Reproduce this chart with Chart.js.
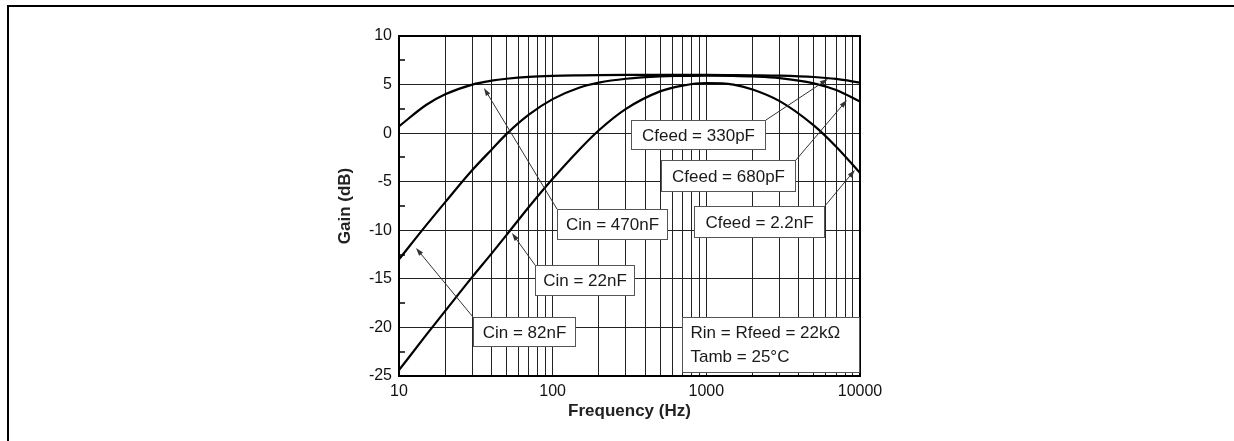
<!DOCTYPE html>
<html>
<head>
<meta charset="utf-8">
<script src="https://cdn.jsdelivr.net/npm/chart.js@4.4.1/dist/chart.umd.min.js"></script>
<style>
  html, body { margin: 0; padding: 0; background: #fff; }
  canvas { display: block; }
</style>
</head>
<body>
<canvas id="gainChart" width="1234" height="441"></canvas>
<script>
// Frequency points (Hz) where the curves were read
const freqs = [10, 15, 20, 30, 40, 50, 70, 100, 150, 200, 300, 500, 700, 1000, 1500, 2000, 3000, 5000, 7000, 10000];

// Gain (dB) per curve
const gainCin470 = [0.7, 2.9, 4.0, 5.0, 5.4, 5.6, 5.8, 5.9, 5.95, 5.97, 5.99, 6.0, 6.0, 6.0, 5.98, 5.96, 5.92, 5.78, 5.58, 5.2];
const gainCin82  = [-13.0, -9.5, -7.1, -3.8, -1.7, -0.1, 1.9, 3.5, 4.7, 5.2, 5.6, 5.85, 5.9, 5.93, 5.9, 5.84, 5.67, 5.13, 4.44, 3.25];
const gainCin22  = [-24.4, -20.8, -18.3, -14.8, -12.4, -10.5, -7.6, -4.7, -1.65, 0.3, 2.5, 4.3, 4.9, 5.15, 5.0, 4.5, 3.3, 0.8, -1.4, -4.1];

// Axis ticks
const decades = [10, 100, 1000];
const xGrid = [];
decades.forEach(d => { for (let m = 1; m <= 9; m++) xGrid.push(d * m); });
xGrid.push(10000);
const xLabels = [10, 100, 1000, 10000];
const yMinorTicks = [7.5, 2.5, -2.5, -7.5, -12.5, -17.5, -22.5];

// Callout boxes: box = [f left, gain top, f right, gain bottom], tip = [f, gain]
const callouts = [
  { lines: ['Cfeed = 330pF'], box: [323, 1.35, 2443, -1.64], corner: 'right', tip: [6180, 5.57] },
  { lines: ['Cfeed = 680pF'], box: [507, -2.77, 3828, -5.96], corner: 'right', tip: [8220, 3.41] },
  { lines: ['Cfeed = 2.2nF'], box: [830, -7.5, 5910, -10.69], corner: 'right', tip: [9265, -3.79] },
  { lines: ['Cin = 470nF'], box: [106.7, -7.81, 562, -10.9], corner: 'left', tip: [35.7, 4.65] },
  { lines: ['Cin = 22nF'], box: [76.7, -13.57, 343, -16.66], corner: 'left', tip: [54.3, -10.28] },
  { lines: ['Cin = 82nF'], box: [30.3, -18.93, 141.8, -21.91], corner: 'left', tip: [12.9, -11.82] },
  { lines: ['Rin = Rfeed = 22k\u03A9', 'Tamb = 25\u00B0C'], box: [694, -18.93, 10000, -24.59], align: 'left' }
];

Chart.defaults.font.family = 'Arial, "Liberation Sans", Helvetica, sans-serif';
Chart.defaults.color = '#111';

const toPoints = (gains) => freqs.map((f, i) => ({ x: f, y: gains[i] }));
const curve = (gains) => ({
    data: toPoints(gains),
    borderColor: '#000',
    borderWidth: 2.2,
    pointRadius: 0,
    fill: false,
    cubicInterpolationMode: 'monotone'
});

function drawArrow(ctx, x1, y1, x2, y2) {
    const ang = Math.atan2(y2 - y1, x2 - x1);
    ctx.beginPath();
    ctx.moveTo(x1, y1);
    ctx.lineTo(x2 - Math.cos(ang) * 4, y2 - Math.sin(ang) * 4);
    ctx.stroke();
    ctx.beginPath();
    ctx.moveTo(x2, y2);
    ctx.lineTo(x2 - 8 * Math.cos(ang) + 2.5 * Math.sin(ang), y2 - 8 * Math.sin(ang) - 2.5 * Math.cos(ang));
    ctx.lineTo(x2 - 8 * Math.cos(ang) - 2.5 * Math.sin(ang), y2 - 8 * Math.sin(ang) + 2.5 * Math.cos(ang));
    ctx.closePath();
    ctx.fill();
}

const decorations = {
    id: 'decorations',
    beforeDraw(chart) {
        const ctx = chart.ctx;
        ctx.save();
        ctx.strokeStyle = '#000';
        ctx.lineWidth = 2;
        ctx.beginPath();
        ctx.moveTo(8, 441);
        ctx.lineTo(8, 6);
        ctx.lineTo(1234, 6);
        ctx.stroke();
        ctx.restore();
    },
    afterDatasetsDraw(chart) {
        const { ctx, chartArea: a, scales: { x, y } } = chart;
        ctx.save();

        // plot frame
        ctx.strokeStyle = '#000';
        ctx.lineWidth = 2;
        ctx.strokeRect(a.left, a.top, a.right - a.left, a.bottom - a.top);

        // minor ticks on the gain axis
        ctx.lineWidth = 1.5;
        yMinorTicks.forEach(v => {
            const py = Math.round(y.getPixelForValue(v));
            ctx.beginPath();
            ctx.moveTo(a.left, py);
            ctx.lineTo(a.left + 6, py);
            ctx.stroke();
        });

        // arrows then boxes
        ctx.strokeStyle = '#333';
        ctx.fillStyle = '#333';
        ctx.lineWidth = 1;
        callouts.forEach(c => {
            if (!c.tip) return;
            const bx = x.getPixelForValue(c.corner === 'right' ? c.box[2] : c.box[0]);
            const by = y.getPixelForValue(c.box[1]);
            drawArrow(ctx, bx, by, x.getPixelForValue(c.tip[0]), y.getPixelForValue(c.tip[1]));
        });

        ctx.font = '17px Arial, "Liberation Sans", sans-serif';
        ctx.textBaseline = 'middle';
        callouts.forEach(c => {
            const l = Math.round(x.getPixelForValue(c.box[0])) + 0.5;
            const t = Math.round(y.getPixelForValue(c.box[1])) + 0.5;
            const r = Math.round(x.getPixelForValue(c.box[2])) - 0.5;
            const b = Math.round(y.getPixelForValue(c.box[3])) + 0.5;
            ctx.fillStyle = '#fff';
            ctx.fillRect(l, t, r - l, b - t);
            ctx.strokeStyle = '#555';
            ctx.lineWidth = 1;
            ctx.strokeRect(l, t, r - l, b - t);
            ctx.fillStyle = '#1a1a1a';
            const cy = (t + b) / 2;
            const gap = 24;
            c.lines.forEach((txt, i) => {
                const ty = cy + (i - (c.lines.length - 1) / 2) * gap;
                if (c.align === 'left') {
                    ctx.textAlign = 'left';
                    ctx.fillText(txt, l + 8, ty);
                } else {
                    ctx.textAlign = 'center';
                    ctx.fillText(txt, (l + r) / 2, ty + 1);
                }
            });
        });
        ctx.restore();
    }
};

new Chart(document.getElementById('gainChart'), {
    type: 'line',
    data: {
        datasets: [curve(gainCin470), curve(gainCin82), curve(gainCin22)]
    },
    options: {
        responsive: false,
        animation: false,
        layout: { padding: { left: 300, right: 374, top: 36, bottom: 0 } },
        plugins: {
            legend: { display: false },
            tooltip: { enabled: false }
        },
        scales: {
            x: {
                type: 'logarithmic',
                min: 10,
                max: 10000,
                afterBuildTicks: (s) => { s.ticks = xGrid.map(v => ({ value: v })); },
                afterFit: (s) => { s.height = 65; },
                ticks: {
                    autoSkip: false,
                    maxRotation: 0,
                    padding: 6,
                    color: '#111',
                    font: { size: 16 },
                    callback: (v) => xLabels.includes(v) ? String(v) : ''
                },
                grid: { color: '#222', lineWidth: 1, drawTicks: false },
                border: { display: false },
                title: {
                    display: true,
                    text: 'Frequency (Hz)',
                    color: '#222',
                    font: { size: 17, weight: 'bold' },
                    padding: { top: 0, bottom: 19 }
                }
            },
            y: {
                min: -25,
                max: 10,
                afterFit: (s) => { s.width = 99; },
                ticks: {
                    stepSize: 5,
                    padding: 7,
                    color: '#111',
                    font: { size: 16 }
                },
                grid: { color: '#222', lineWidth: 1, drawTicks: false },
                border: { display: false },
                title: {
                    display: true,
                    text: 'Gain (dB)',
                    color: '#222',
                    font: { size: 17, weight: 'bold' },
                    padding: { top: 35, bottom: 0 }
                }
            }
        }
    },
    plugins: [decorations]
});
</script>
</body>
</html>
